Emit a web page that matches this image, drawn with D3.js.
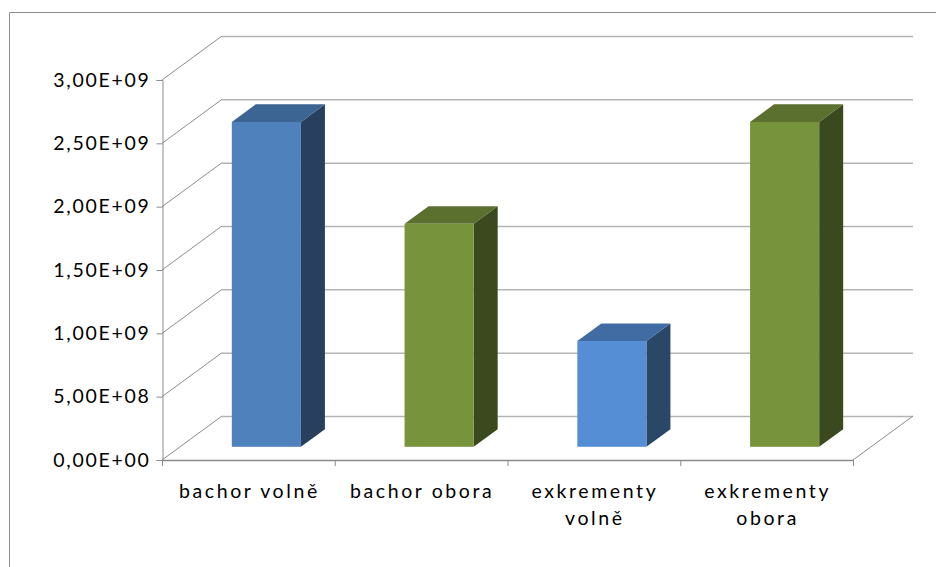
<!DOCTYPE html>
<html lang="cs">
<head>
  <meta charset="UTF-8" />
  <title>3D sloupcový graf</title>
  <script src="https://cdn.jsdelivr.net/npm/d3@7"></script>
  <style>
    body { margin: 0; background: #fff; }
    text { font-family: "Lato", "Liberation Sans", sans-serif; fill: #000; }
  </style>
</head>
<body>
  <script>
    // data
    var categories = ["bachor volně", "bachor obora", "exkrementy volně", "exkrementy obora"];
    var values = [2.565e9, 1.76e9, 0.835e9, 2.565e9];
    var yTicks = [0, 5e8, 1e9, 1.5e9, 2e9, 2.5e9, 3e9];
    var yTickLabels = ["0,00E+00", "5,00E+08", "1,00E+09", "1,50E+09", "2,00E+09", "2,50E+09", "3,00E+09"];

    var w = 936,
      h = 567;

    // depth of the 3d box and bar placement inside it
    var dx = 60,
      dy = -44,
      barFront = 0.3,
      barBack = 0.7;

    var palette = [
      { front: "#4f81bd", top: "#3d6593", side: "#283f5d" },
      { front: "#77933c", top: "#5b6f2e", side: "#3b4a1e" },
      { front: "#558ed5", top: "#406ca3", side: "#2b4768" },
      { front: "#77933c", top: "#5b6f2e", side: "#3b4a1e" }
    ];

    var svg = d3.select("body").append("svg")
      .attr("width", w)
      .attr("height", h);

    // chart area border
    svg.append("path")
      .attr("d", "M9.5," + h + "V12.5H" + w)
      .attr("fill", "none")
      .attr("stroke", "#8c8c8c")
      .attr("stroke-width", 1);

    var xScale = d3.scaleBand()
      .domain(categories)
      .range([162, 853])
      .paddingInner(0.6)
      .paddingOuter(0.3);

    var yScale = d3.scaleLinear()
      .domain([0, 3e9])
      .range([460, 80]);

    var x0 = xScale.range()[0],
      x1 = xScale.range()[1],
      step = xScale.step();

    // back wall gridlines
    svg.append("g")
      .selectAll("line")
      .data(yTicks)
      .enter()
      .append("line")
      .attr("x1", x0 + dx)
      .attr("x2", x1 + dx)
      .attr("y1", function(d) { return yScale(d) + dy + 0.5; })
      .attr("y2", function(d) { return yScale(d) + dy + 0.5; })
      .attr("stroke", "#b4b4b4")
      .attr("stroke-width", 1.5);

    // side wall diagonals
    svg.append("g")
      .selectAll("line")
      .data(yTicks)
      .enter()
      .append("line")
      .attr("x1", x0)
      .attr("y1", function(d) { return yScale(d); })
      .attr("x2", x0 + dx)
      .attr("y2", function(d) { return yScale(d) + dy; })
      .attr("stroke", "#8c8c8c")
      .attr("stroke-width", 1);

    // floor right edge
    svg.append("line")
      .attr("x1", x1)
      .attr("y1", yScale(0))
      .attr("x2", x1 + dx)
      .attr("y2", yScale(0) + dy)
      .attr("stroke", "#8c8c8c");

    // y axis
    var yAxis = d3.axisLeft(yScale)
      .tickValues(yTicks)
      .tickSize(6)
      .tickFormat(function(d, i) { return yTickLabels[i]; });

    var gy = svg.append("g")
      .attr("transform", "translate(" + (x0 + 0.5) + ",0)")
      .call(yAxis);
    gy.select(".domain").attr("stroke", "#8c8c8c");
    gy.selectAll(".tick line").attr("stroke", "#8c8c8c");
    gy.selectAll(".tick text")
      .attr("x", -12)
      .style("font-size", "19.5px")
      .style("letter-spacing", "1.7px")
      .style("font-family", "Lato, sans-serif");

    // x axis line and category ticks
    var gx = svg.append("g");
    gx.append("line")
      .attr("x1", x0)
      .attr("x2", x1 + 0.5)
      .attr("y1", yScale(0) + 0.5)
      .attr("y2", yScale(0) + 0.5)
      .attr("stroke", "#8c8c8c")
      .attr("stroke-width", 1.5);
    gx.selectAll(".xt")
      .data(d3.range(categories.length + 1))
      .enter()
      .append("line")
      .attr("x1", function(i) { return x0 + i * step + 0.5; })
      .attr("x2", function(i) { return x0 + i * step + 0.5; })
      .attr("y1", yScale(0))
      .attr("y2", yScale(0) + 6)
      .attr("stroke", "#8c8c8c");

    // category labels, wrapped when too wide
    var labels = gx.selectAll(".lbl")
      .data(categories)
      .enter()
      .append("text")
      .attr("class", "lbl")
      .attr("text-anchor", "middle")
      .style("font-size", "19.5px")
      .style("letter-spacing", "2.6px")
      .attr("x", function(d) { return xScale(d) + xScale.bandwidth() / 2 + 1; })
      .attr("y", 498);

    labels.each(function(d) {
      var t = d3.select(this),
        cx = +t.attr("x"),
        words = d.split(" "),
        line = [],
        ts = t.append("tspan").attr("x", cx).attr("dy", 0);
      words.forEach(function(word) {
        line.push(word);
        ts.text(line.join(" "));
        if (ts.node().getComputedTextLength() > 165 && line.length > 1) {
          line.pop();
          ts.text(line.join(" "));
          line = [word];
          ts = t.append("tspan").attr("x", cx).attr("dy", 27).text(word);
        }
      });
    });

    // 3d bars
    function px(xv, f) { return xv + f * dx; }
    function py(yv, f) { return yv + f * dy; }

    var bars = svg.append("g")
      .selectAll("g")
      .data(categories)
      .enter()
      .append("g");

    bars.append("path")
      .attr("class", "side")
      .attr("fill", function(d, i) { return palette[i].side; })
      .attr("d", function(d, i) {
        var xr = xScale(d) + xScale.bandwidth(),
          yt = yScale(values[i]),
          yb = yScale(0);
        return "M" + px(xr, barFront) + "," + py(yt, barFront) +
          "L" + px(xr, barBack) + "," + py(yt, barBack) +
          "L" + px(xr, barBack) + "," + py(yb, barBack) +
          "L" + px(xr, barFront) + "," + py(yb, barFront) + "Z";
      });

    bars.append("path")
      .attr("class", "top")
      .attr("fill", function(d, i) { return palette[i].top; })
      .attr("d", function(d, i) {
        var xl = xScale(d),
          xr = xl + xScale.bandwidth(),
          yt = yScale(values[i]);
        return "M" + px(xl, barFront) + "," + py(yt, barFront) +
          "L" + px(xl, barBack) + "," + py(yt, barBack) +
          "L" + px(xr, barBack) + "," + py(yt, barBack) +
          "L" + px(xr, barFront) + "," + py(yt, barFront) + "Z";
      });

    bars.append("rect")
      .attr("class", "front")
      .attr("fill", function(d, i) { return palette[i].front; })
      .attr("x", function(d) { return px(xScale(d), barFront); })
      .attr("y", function(d, i) { return py(yScale(values[i]), barFront); })
      .attr("width", xScale.bandwidth())
      .attr("height", function(d, i) { return yScale(0) - yScale(values[i]); });
  </script>
</body>
</html>
